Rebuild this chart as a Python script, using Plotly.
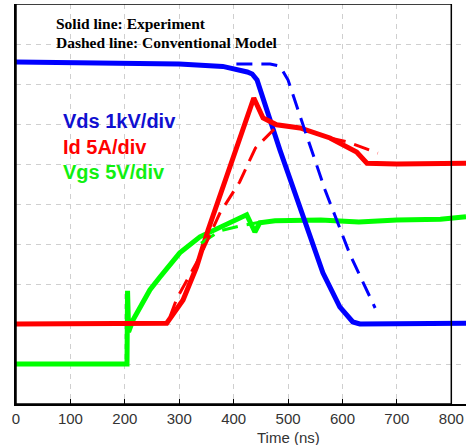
import plotly.graph_objects as go

# ---- data (time in ns, values in divisions) ----
vds_t = [0, 100, 200, 300, 380, 410, 425, 434, 443, 485, 509, 535, 564, 595, 619, 632, 700, 760, 827]
vds_v = [8.55, 8.54, 8.52, 8.5, 8.44, 8.36, 8.3, 8.25, 8.1, 6.35, 5.4, 4.35, 3.28, 2.43, 2.05, 2.0, 2.0, 2.0, 2.02]

id_t = [0, 100, 200, 274, 277, 307, 332, 353, 380, 411, 437, 454, 479, 522, 577, 626, 645, 700, 760, 827]
id_v = [2.0, 2.0, 2.0, 2.0, 2.02, 2.6, 3.43, 4.35, 5.43, 6.68, 7.65, 7.15, 6.98, 6.9, 6.65, 6.3, 6.02, 6.0, 6.0, 6.02]

vgs_t = [0, 100, 202, 204, 205, 207, 215, 246, 265, 301, 338, 375, 411, 424, 439, 448, 476, 560, 630, 700, 780, 827]
vgs_v = [1.0, 1.0, 1.0, 1.0, 2.83, 1.8, 2.1, 2.85, 3.18, 3.78, 4.18, 4.43, 4.65, 4.73, 4.3, 4.53, 4.58, 4.6, 4.55, 4.6, 4.62, 4.68]

vds_m_t = [405, 440, 467, 485, 500, 522, 568, 614, 660]
vds_m_v = [8.5, 8.5, 8.5, 8.45, 8.1, 7.2, 5.35, 3.73, 2.4]

id_m_t = [283, 296, 338, 375, 411, 440, 473, 485, 522, 577, 610, 665]
id_m_v = [2.18, 2.65, 3.68, 4.78, 5.55, 6.4, 6.85, 6.97, 6.9, 6.65, 6.55, 6.27]

vgs_m_t = [340, 375, 411, 450, 480]
vgs_m_v = [4.02, 4.33, 4.45, 4.55, 4.58]

x_ticks = [0, 100, 200, 300, 400, 500, 600, 700, 800]
y_grid = [0, 1, 2, 3, 4, 5, 6, 7, 8, 9, 10]

BLUE = "#0000FF"
RED = "#FF0000"
GREEN = "#00FF00"

fig = go.Figure()
fig.add_trace(go.Scatter(x=vgs_t, y=vgs_v, mode="lines", line=dict(color=GREEN, width=5)))
fig.add_trace(go.Scatter(x=vds_t, y=vds_v, mode="lines", line=dict(color=BLUE, width=5)))
fig.add_trace(go.Scatter(x=id_t, y=id_v, mode="lines", line=dict(color=RED, width=5)))
fig.add_trace(go.Scatter(x=vgs_m_t, y=vgs_m_v, mode="lines", line=dict(color=GREEN, width=3, dash="16px,9px")))
fig.add_trace(go.Scatter(x=vds_m_t, y=vds_m_v, mode="lines", line=dict(color=BLUE, width=3, dash="16px,9px")))
fig.add_trace(go.Scatter(x=id_m_t, y=id_m_v, mode="lines", line=dict(color=RED, width=3, dash="16px,9px")))

# plot box 0..800
fig.add_shape(type="rect", xref="x", yref="y", x0=0, x1=800, y0=0, y1=10,
              line=dict(color="black", width=1.5), layer="above")

serif = "Liberation Serif"
fig.add_annotation(x=70, y=9.525, xref="x", yref="y", xanchor="left", yanchor="middle",
                   text="<b>Solid line: Experiment</b>", showarrow=False,
                   font=dict(family=serif, size=15.5, color="black"))
fig.add_annotation(x=70, y=9.05, xref="x", yref="y", xanchor="left", yanchor="middle",
                   text="<b>Dashed line: Conventional Model</b>", showarrow=False,
                   font=dict(family=serif, size=15.5, color="black"))

sans = "Liberation Sans"
fig.add_annotation(x=82, y=7.075, xref="x", yref="y", xanchor="left", yanchor="middle",
                   text="<b>Vds 1kV/div</b>", showarrow=False,
                   font=dict(family=sans, size=20, color="#1010D0"))
fig.add_annotation(x=82, y=6.425, xref="x", yref="y", xanchor="left", yanchor="middle",
                   text="<b>Id 5A/div</b>", showarrow=False,
                   font=dict(family=sans, size=20, color=RED))
fig.add_annotation(x=82, y=5.8, xref="x", yref="y", xanchor="left", yanchor="middle",
                   text="<b>Vgs 5V/div</b>", showarrow=False,
                   font=dict(family=sans, size=20, color="#10F010"))

fig.add_annotation(x=500, y=-0.0825, xref="x", yref="paper", xanchor="center", yanchor="middle",
                   text="Time (ns)", showarrow=False,
                   font=dict(family=sans, size=15, color="#333333"))

fig.update_layout(
    width=466, height=445,
    margin=dict(l=16, r=0, t=4, b=41),
    paper_bgcolor="white", plot_bgcolor="white",
    showlegend=False,
    xaxis=dict(range=[0, 827], tickmode="array", tickvals=x_ticks,
               ticktext=[str(v) for v in x_ticks],
               showgrid=True, gridcolor="#CFCFCF", griddash="5px,5px", gridwidth=1,
               showline=True, linecolor="black", linewidth=1.5,
               ticks="inside", ticklen=5, tickcolor="black", tickwidth=1,
               tickfont=dict(family=sans, size=15, color="#333333"),
               zeroline=False, fixedrange=True),
    yaxis=dict(range=[0, 10], tickmode="array", tickvals=y_grid, showticklabels=False,
               showgrid=True, gridcolor="#CFCFCF", griddash="5px,5px", gridwidth=1,
               showline=True, linecolor="black", linewidth=1.5, ticks="",
               zeroline=False, fixedrange=True),
)

fig.write_html("out.html", config={"displayModeBar": False},
               post_script="document.body.style.margin='0';document.body.style.overflow='hidden';")
